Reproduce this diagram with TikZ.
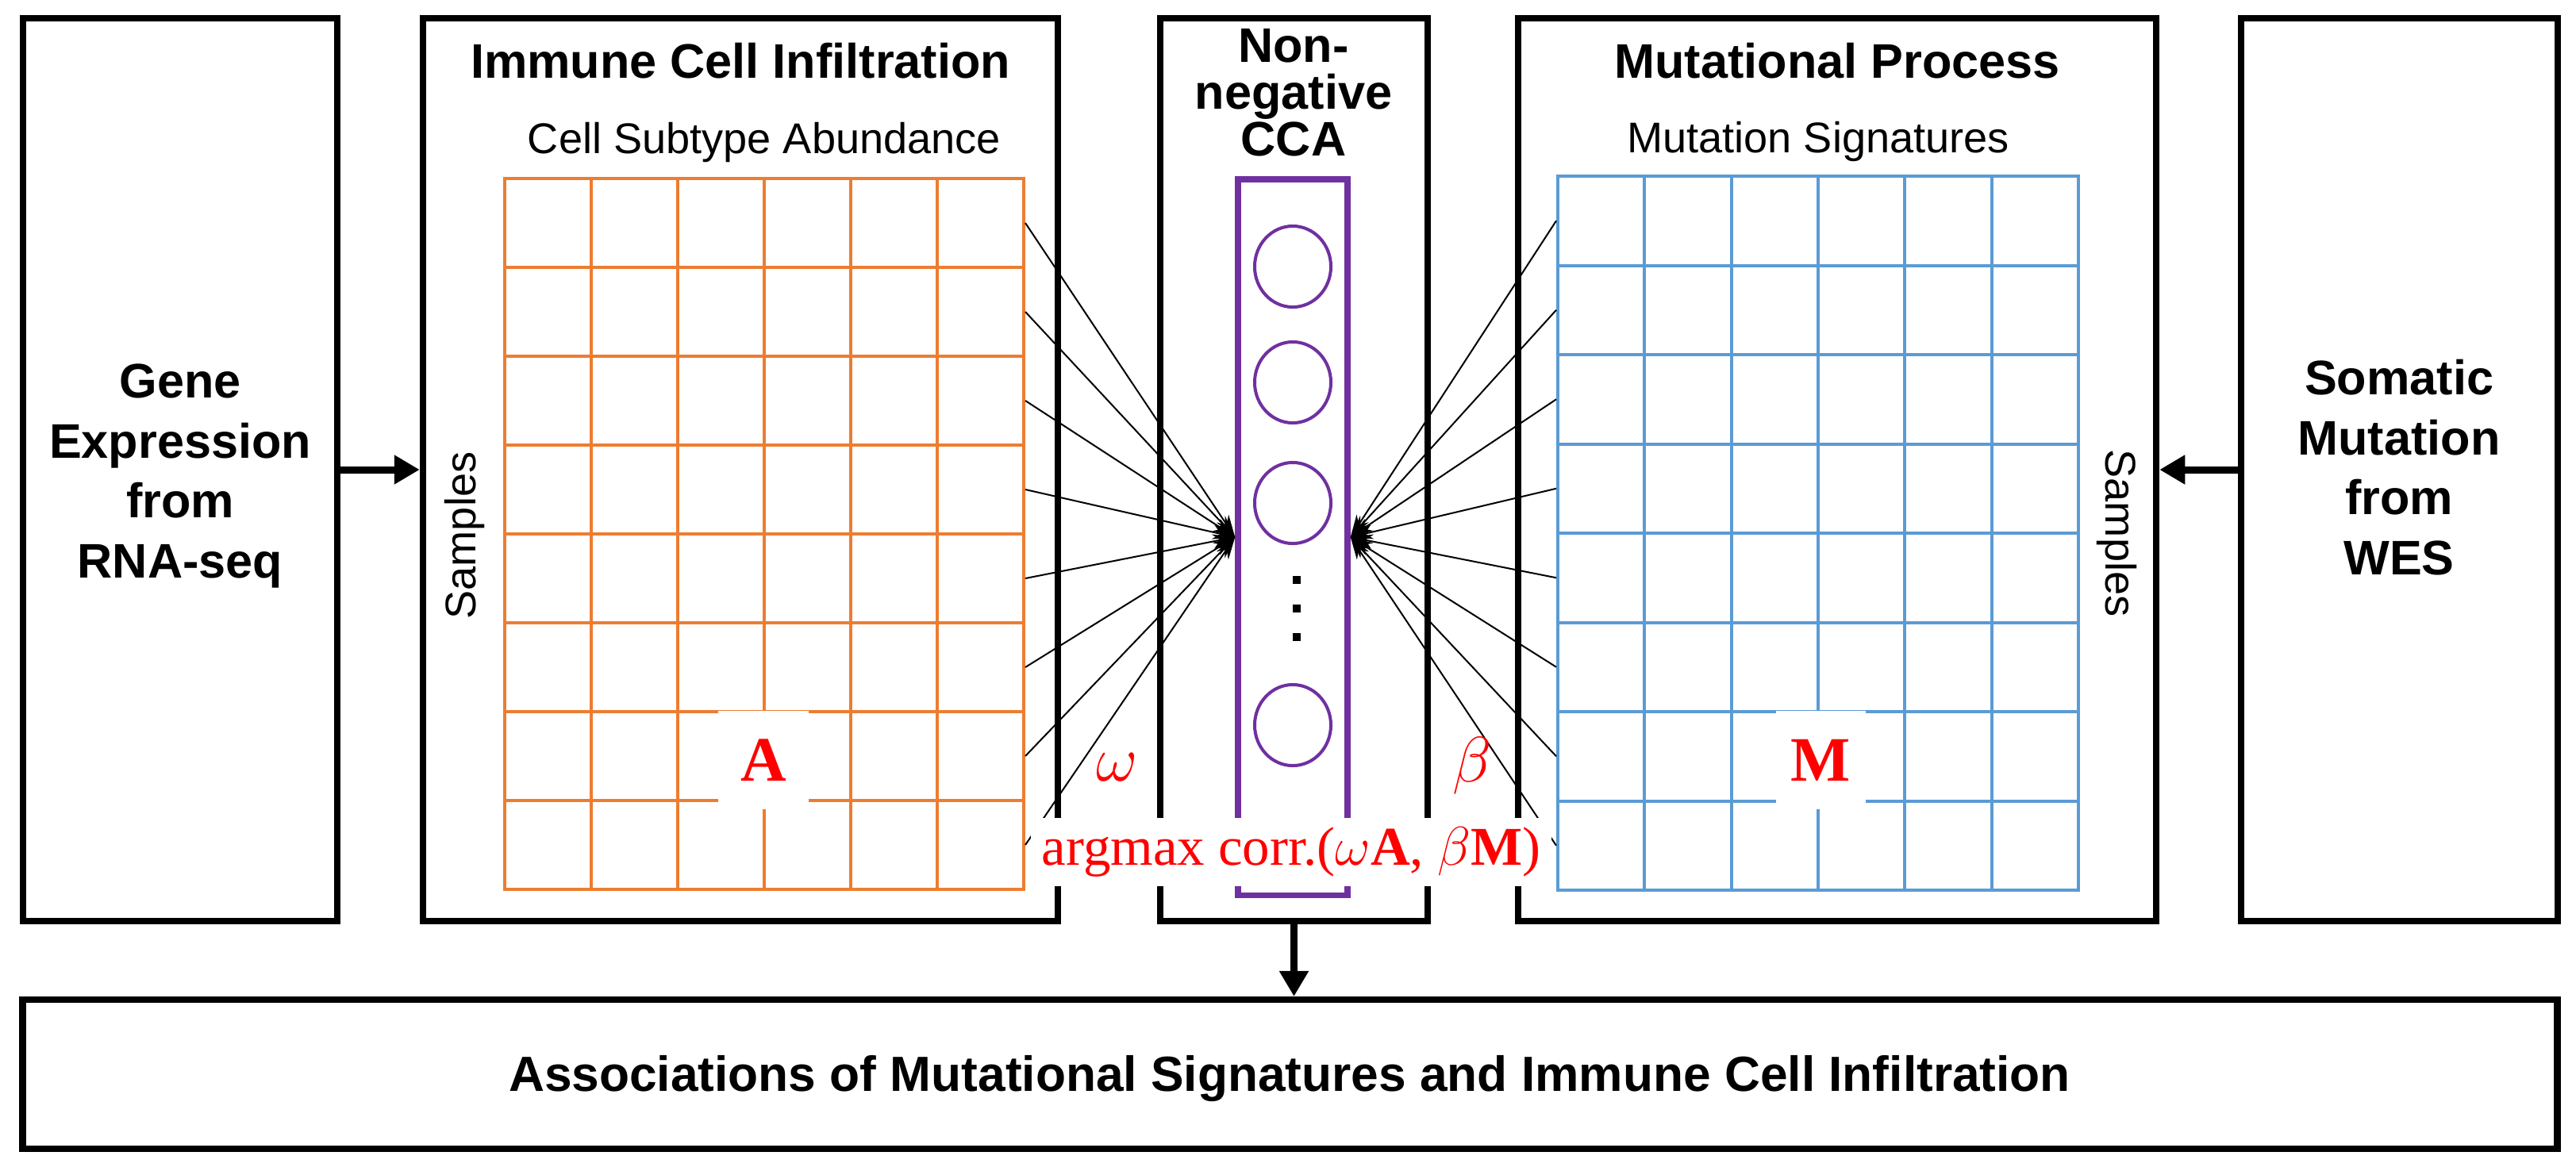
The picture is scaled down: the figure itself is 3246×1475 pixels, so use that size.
\RequirePackage{fix-cm}
\documentclass[tikz,border=0pt]{standalone}
\usepackage{fontspec}
\setmainfont{Liberation Sans}
\newfontfamily\tnr{Liberation Serif}
\usetikzlibrary{arrows.meta,shapes.geometric}
\definecolor{orng}{HTML}{ED7D31}
\definecolor{blu}{HTML}{5B9BD5}
\definecolor{purp}{HTML}{7030A0}
\definecolor{redd}{HTML}{FF0000}
\begin{document}
\begin{tikzpicture}[x=0.01cm,y=-0.01cm,
  box/.style={draw=black, line width=0.085cm, inner sep=0, rectangle},
  bigtxt/.style={font=\fontsize{17.4pt}{21.5pt}\selectfont\bfseries, align=center, inner sep=0},
  subtxt/.style={font=\fontsize{15.4pt}{18pt}\selectfont, inner sep=0},
  bigarrow/.style={line width=0.09cm, -{Triangle[length=0.32cm,width=0.35cm]}},
  fan/.style={line width=0.02cm, -{Stealth[length=0.28cm,width=0.18cm]}},
  ogrid/.style={draw=orng, line width=0.04cm, line cap=rect},
  bgrid/.style={draw=blu, line width=0.04cm, line cap=rect},
  node/.style={ellipse, draw=purp, line width=0.04cm, minimum width=0.96cm, minimum height=1.02cm, inner sep=0},
  dotsq/.style={rectangle, fill=black, minimum size=0.1cm, inner sep=0},
  patch/.style={fill=white, minimum width=1.13cm, minimum height=1.23cm, inner sep=0, text=redd,
    font=\tnr\bfseries\fontsize{22.7pt}{26pt}\selectfont},
  greek/.style={text=redd, inner sep=0, font=\fontsize{23pt}{26pt}\selectfont}
]
\useasboundingbox (0,0) rectangle (3246,1475);
\fill[white] (0,0) rectangle (3246,1475);

% outer boxes
\node[box, minimum width=3.955cm, minimum height=11.375cm] (b1) at (227,592) {};
\node[box, minimum width=7.995cm, minimum height=11.375cm] (b2) at (933,592) {};
\node[box, minimum width=3.365cm, minimum height=11.375cm] (b3) at (1630.5,592) {};
\node[box, minimum width=8.035cm, minimum height=11.375cm] (b4) at (2315,592) {};
\node[box, minimum width=3.985cm, minimum height=11.375cm] (b5) at (3023.5,592) {};
\node[box, minimum width=31.925cm, minimum height=1.875cm] (bb) at (1625.5,1354) {};

% texts
\node[bigtxt] (t1) at (227,600) {Gene\\Expression\\from\\RNA-seq};
\node[bigtxt] (t5) at (3023,589) {Somatic\\Mutation\\from\\WES};
\node[bigtxt, font=\fontsize{17.4pt}{16.8pt}\selectfont\bfseries] (t3) at (1630,117) {Non-\\negative\\CCA};
\node[bigtxt, anchor=base] (t2) at (933,98) {Immune Cell Infiltration};
\node[subtxt, anchor=base] (s2) at (963,193) {Cell Subtype Abundance};
\node[bigtxt, anchor=base] (t4) at (2315,98) {Mutational Process};
\node[subtxt, anchor=base] (s4) at (2291,192) {Mutation Signatures};
\node[subtxt, rotate=90] (sl) at (585,675) {Samples};
\node[subtxt, rotate=-90] (sr) at (2667,672) {Samples};
\node[bigtxt, anchor=base, font=\fontsize{17.7pt}{21.5pt}\selectfont\bfseries] (tb) at (1625,1375) {Associations of Mutational Signatures and Immune Cell Infiltration};

% arrows between boxes
\draw[bigarrow] (b1.east) -- (b2.west);
\draw[bigarrow] (b5.west) -- (b4.east);
\draw[bigarrow] (b3.south) -- (b3.south |- bb.north);

% orange grid
\foreach \i in {0,...,6} \draw[ogrid] ({636+109*\i},225) -- ({636+109*\i},1121);
\foreach \j in {0,...,8} \draw[ogrid] (636,{225+112*\j}) -- (1290,{225+112*\j});
% blue grid
\foreach \i in {0,...,6} \draw[bgrid] ({1963+109.33*\i},222) -- ({1963+109.33*\i},1122);
\foreach \j in {0,...,8} \draw[bgrid] (1963,{222+112.5*\j}) -- (2619,{222+112.5*\j});

% matrix labels
\node[patch] (lA) at (962,958) {A};
\node[patch] (lM) at (2294,958) {M};

% CCA column
\node[rectangle, draw=purp, line width=0.075cm, minimum width=1.38cm, minimum height=9.02cm, inner sep=0] (cca) at (1629,677) {};
\node[node] (c1) at (1629,336) {};
\node[node] (c2) at (1629,482) {};
\node[node] (c3) at (1629,634) {};
\node[node] (c4) at (1629,914) {};
\node[dotsq] (d1) at (1634,731) {};
\node[dotsq] (d2) at (1634,767) {};
\node[dotsq] (d3) at (1634,803) {};

% fan connectors
\foreach \j in {1,...,8} {
  \coordinate (a\j) at (1292,{225+112*\j-56});
  \draw[fan] (a\j) -- (cca.west);
  \coordinate (m\j) at (1961,{222+112.5*\j-56.25});
  \draw[fan] (m\j) -- (cca.east);
}

% weights
\node[greek] (om) at (1408,967) {$\omega$};
\node[greek] (be) at (1855,965) {$\beta$};

% objective
\node[fill=white, minimum width=6.55cm, minimum height=0.85cm, inner sep=0, text=redd,
  font=\tnr\fontsize{19.6pt}{22pt}\selectfont] (lbl) at (1627,1074)
  {argmax corr.($\omega$\textbf{A}, $\beta$\textbf{M})};
\end{tikzpicture}
\end{document}
